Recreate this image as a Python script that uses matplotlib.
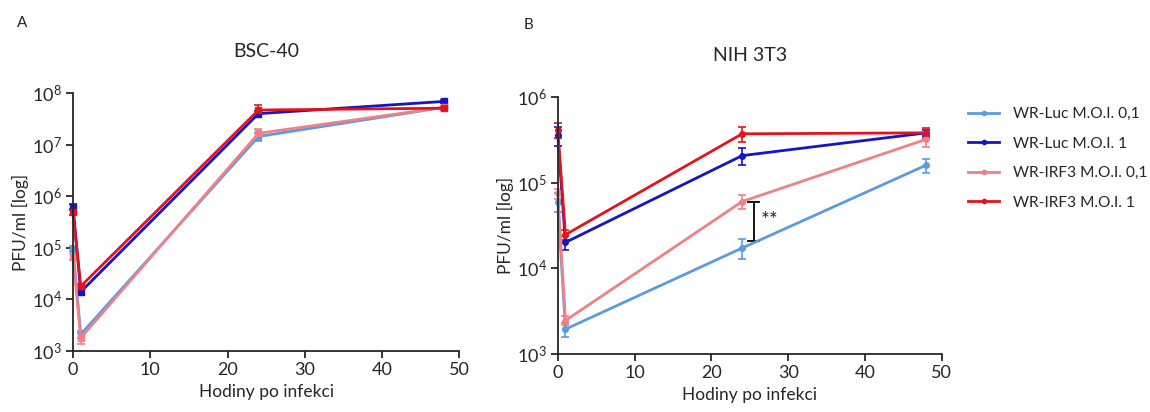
import matplotlib
matplotlib.use('Agg')
import matplotlib.pyplot as plt
from matplotlib.lines import Line2D
from matplotlib.ticker import FixedLocator, NullLocator

plt.rcParams['font.family'] = ['Lato', 'DejaVu Sans']
plt.rcParams['mathtext.fontset'] = 'custom'
plt.rcParams['mathtext.rm'] = 'Lato'
plt.rcParams['mathtext.default'] = 'regular'

TEXT = '#262626'

hours = [0, 1, 24, 48]
series_names = ['WR-Luc M.O.I. 0,1', 'WR-Luc M.O.I. 1', 'WR-IRF3 M.O.I. 0,1', 'WR-IRF3 M.O.I. 1']
colors = ['#5b9be0', '#1414c8', '#f08088', '#e0141e']

# BSC-40 titres (PFU/ml), mean and SD
bsc_luc_01 = [9.7e4, 2.1e3, 1.44e7, 5.3e7]
bsc_luc_1 = [6.3e5, 1.4e4, 4.0e7, 6.9e7]
bsc_irf3_01 = [6.7e4, 1.8e3, 1.66e7, 5.3e7]
bsc_irf3_1 = [5.0e5, 1.8e4, 4.7e7, 5.1e7]
bsc_luc_01_sd = [1.2e4, 3e2, 2.5e6, 4e6]
bsc_luc_1_sd = [8e4, 2e3, 5e6, 6e6]
bsc_irf3_01_sd = [1e4, 4.5e2, 4e6, 4e6]
bsc_irf3_1_sd = [7e4, 2e3, 1.1e7, 4e6]

# NIH 3T3 titres (PFU/ml), mean and SD
nih_luc_01 = [6.0e4, 1.94e3, 1.72e4, 1.6e5]
nih_luc_1 = [3.6e5, 2.0e4, 2.06e5, 3.8e5]
nih_irf3_01 = [7.5e4, 2.45e3, 6.0e4, 3.2e5]
nih_irf3_1 = [4.15e5, 2.46e4, 3.7e5, 3.8e5]
nih_luc_01_sd = [1.5e4, 3.5e2, 4.5e3, 3e4]
nih_luc_1_sd = [9e4, 3.5e3, 4.5e4, 3e4]
nih_irf3_01_sd = [1e4, 3e2, 1.1e4, 6e4]
nih_irf3_1_sd = [8e4, 3e3, 7e4, 5e4]

# significance bracket at 24 h (NIH 3T3)
sig_x = 25.5
sig_low, sig_high = 2.1e4, 6.0e4
sig_text = '**'


def draw_panel(ax, means, sds, marker, ymin, ymax, title):
    for vals, err, col, name in zip(means, sds, colors, series_names):
        ax.errorbar(hours, vals, yerr=err, color=col, lw=2, marker=marker, ms=4,
                    capsize=3, elinewidth=1.2, capthick=1.2, label=name, clip_on=False)
    ax.set_yscale('log')
    ax.set_ylim(ymin, ymax)
    ax.set_xlim(0, 50)
    decades = [10 ** k for k in range(len(str(int(ymin))) - 1, len(str(int(ymax))))]
    ax.yaxis.set_major_locator(FixedLocator(decades))
    ax.yaxis.set_minor_locator(NullLocator())
    ax.set_yticklabels([f'$10^{{{len(str(int(d))) - 1}}}$' for d in decades])
    ax.set_xticks([0, 10, 20, 30, 40, 50])
    for s in ['top', 'right']:
        ax.spines[s].set_visible(False)
    for s in ['left', 'bottom']:
        ax.spines[s].set_linewidth(1.3)
        ax.spines[s].set_color(TEXT)
    ax.tick_params(direction='out', length=5, width=1.3, color=TEXT, labelcolor=TEXT,
                   labelsize=13, pad=3)
    ax.set_xlabel('Hodiny po infekci', fontsize=12.5, color=TEXT, labelpad=4)
    ax.set_ylabel('PFU/ml [log]', fontsize=12.5, color=TEXT, labelpad=2)
    ax.set_title(title, fontsize=14, color=TEXT, pad=26)


fig = plt.figure(figsize=(11.5, 4.12), dpi=100)
ax1 = fig.add_axes([0.0635, 0.148, 0.336, 0.626])
ax2 = fig.add_axes([0.485, 0.141, 0.334, 0.624])

draw_panel(ax1, [bsc_luc_01, bsc_luc_1, bsc_irf3_01, bsc_irf3_1],
           [bsc_luc_01_sd, bsc_luc_1_sd, bsc_irf3_01_sd, bsc_irf3_1_sd],
           's', 1e3, 1e8, 'BSC-40')
draw_panel(ax2, [nih_luc_01, nih_luc_1, nih_irf3_01, nih_irf3_1],
           [nih_luc_01_sd, nih_luc_1_sd, nih_irf3_01_sd, nih_irf3_1_sd],
           'o', 1e3, 1e6, 'NIH 3T3')

ax2.plot([sig_x, sig_x], [sig_low, sig_high], color='black', lw=1.3)
ax2.plot([sig_x - 0.7, sig_x + 0.7], [sig_low, sig_low], color='black', lw=1.3)
ax2.plot([sig_x - 0.7, sig_x + 0.7], [sig_high, sig_high], color='black', lw=1.3)
ax2.text(sig_x + 0.9, (sig_low * sig_high) ** 0.5, sig_text, fontsize=15, va='center',
         ha='left', color=TEXT)

# legend entries drawn as plain line + dot, without the error bars
handles = [Line2D([], [], color=c, lw=2, marker='o', ms=3) for c in colors]
fig.legend(handles, series_names, loc='upper left', bbox_to_anchor=(0.842, 0.74),
           frameon=False, borderaxespad=0, borderpad=0, fontsize=11.2,
           handlelength=2.0, handletextpad=0.9, labelspacing=1.0, labelcolor=TEXT)

fig.text(0.015, 0.945, 'A', fontsize=11, color=TEXT, va='center')
fig.text(0.455, 0.94, 'B', fontsize=11, color=TEXT, va='center')

fig.savefig('out.png', dpi=100)
